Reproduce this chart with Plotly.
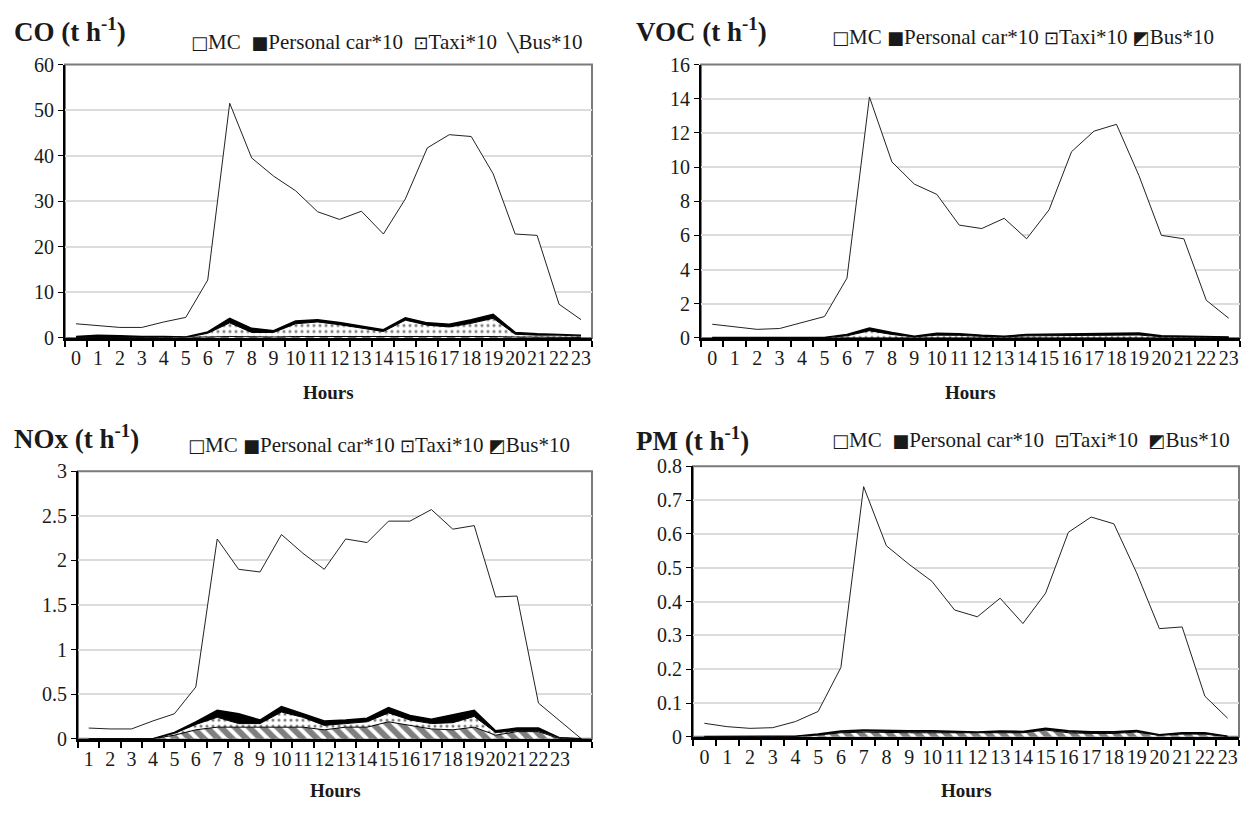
import plotly.graph_objects as go

# ---- data -------------------------------------------------------------
hour_labels = [str(h) for h in range(24)]
nox_slots = [str(h) for h in range(1, 25)]
nox_labels = [str(h) for h in range(1, 24)] + [" "]

co_mc = [3.1, 2.7, 2.3, 2.3, 3.5, 4.5, 12.7, 51.5, 39.5, 35.5, 32.3, 27.7,
         26.0, 27.8, 22.8, 30.5, 41.7, 44.6, 44.2, 36.0, 22.8, 22.5, 7.4, 4.0]
co_car = [0.3, 0.6, 0.5, 0.3, 0.3, 0.2, 1.3, 4.3, 2.1, 1.6, 3.7, 4.0,
          3.4, 2.6, 1.8, 4.4, 3.3, 3.0, 4.0, 5.2, 1.2, 0.9, 0.8, 0.6]
co_taxi = [0.1, 0.2, 0.2, 0.1, 0.1, 0.1, 1.0, 3.3, 1.2, 1.2, 3.1, 3.5,
           2.9, 2.1, 1.4, 3.9, 2.8, 2.4, 3.2, 4.3, 0.8, 0.6, 0.6, 0.4]
co_bus = [0.05, 0.05, 0.05, 0.05, 0.05, 0.1, 0.2, 0.3, 0.2, 0.2, 0.3, 0.3,
          0.3, 0.3, 0.3, 0.4, 0.3, 0.3, 0.3, 0.3, 0.2, 0.2, 0.2, 0.1]

voc_mc = [0.8, 0.65, 0.5, 0.55, 0.9, 1.25, 3.5, 14.1, 10.3, 9.0, 8.4, 6.6,
          6.4, 7.0, 5.8, 7.5, 10.9, 12.1, 12.5, 9.5, 6.0, 5.8, 2.2, 1.15]
voc_car = [0.02, 0.02, 0.02, 0.02, 0.02, 0.03, 0.2, 0.58, 0.32, 0.1, 0.27, 0.25,
           0.15, 0.1, 0.2, 0.22, 0.2, 0.23, 0.27, 0.28, 0.12, 0.1, 0.08, 0.06]
voc_taxi = [0.01, 0.01, 0.01, 0.01, 0.01, 0.02, 0.12, 0.42, 0.2, 0.06, 0.16, 0.15,
            0.09, 0.06, 0.12, 0.14, 0.12, 0.14, 0.16, 0.17, 0.07, 0.06, 0.05, 0.03]
voc_bus = [0.0, 0.0, 0.0, 0.0, 0.0, 0.01, 0.03, 0.04, 0.03, 0.03, 0.03, 0.03,
           0.03, 0.03, 0.03, 0.04, 0.03, 0.03, 0.03, 0.03, 0.01, 0.02, 0.02, 0.0]

nox_mc = [0.12, 0.11, 0.11, 0.2, 0.28, 0.58, 2.24, 1.9, 1.87, 2.29, 2.08, 1.9,
          2.24, 2.2, 2.44, 2.44, 2.57, 2.35, 2.39, 1.59, 1.6, 0.4, 0.2, 0.0]
nox_car = [0.0, 0.0, 0.0, 0.0, 0.07, 0.19, 0.32, 0.28, 0.21, 0.36, 0.28, 0.2,
           0.21, 0.23, 0.35, 0.26, 0.22, 0.27, 0.32, 0.09, 0.12, 0.12, 0.01, 0.0]
nox_taxi = [0.0, 0.0, 0.0, 0.0, 0.06, 0.16, 0.24, 0.17, 0.17, 0.3, 0.24, 0.15,
            0.17, 0.19, 0.29, 0.21, 0.17, 0.18, 0.25, 0.07, 0.09, 0.09, 0.01, 0.0]
nox_bus = [0.0, 0.0, 0.0, 0.0, 0.04, 0.1, 0.13, 0.13, 0.13, 0.13, 0.13, 0.1,
           0.13, 0.13, 0.19, 0.15, 0.11, 0.1, 0.13, 0.04, 0.08, 0.08, 0.0, 0.0]

pm_mc = [0.04, 0.03, 0.025, 0.027, 0.045, 0.075, 0.205, 0.74, 0.565, 0.51, 0.46, 0.375,
         0.355, 0.41, 0.335, 0.425, 0.605, 0.65, 0.63, 0.485, 0.32, 0.325, 0.12, 0.055]
pm_car = [0.001, 0.001, 0.001, 0.001, 0.002, 0.008, 0.017, 0.02, 0.018, 0.018, 0.018, 0.017,
          0.014, 0.017, 0.016, 0.025, 0.018, 0.015, 0.015, 0.019, 0.006, 0.012, 0.012, 0.002]
pm_taxi = [0.001, 0.001, 0.001, 0.001, 0.001, 0.006, 0.014, 0.017, 0.015, 0.015, 0.015, 0.014,
           0.011, 0.014, 0.013, 0.022, 0.015, 0.012, 0.012, 0.016, 0.005, 0.01, 0.01, 0.001]
pm_bus = [0.0, 0.0, 0.0, 0.0, 0.001, 0.005, 0.012, 0.014, 0.012, 0.012, 0.012, 0.012,
          0.01, 0.012, 0.012, 0.02, 0.012, 0.01, 0.01, 0.014, 0.004, 0.008, 0.008, 0.0]

series_names = ["MC", "Personal car*10", "Taxi*10", "Bus*10"]

# ---- styling ----------------------------------------------------------
W, H = 1248, 813
FONT = "Liberation Serif"
INK = "#1a1a1a"
GLYPH = "font-family:'DejaVu Sans';font-size:18px"


def px_x(a, b):
    return [a / W, b / W]


def px_y(top, bottom):
    return [1 - bottom / H, 1 - top / H]


def legend_text(bus_glyph, gap):
    sep = "&nbsp;" * gap
    icons = ["\u25a1", "\u25a0", "\u22a1", bus_glyph]
    parts = [f"<span style=\"{GLYPH}\">{ic}</span>{nm}"
             for ic, nm in zip(icons, series_names)]
    return sep.join(parts)


panels = [
    dict(title="CO (t h<sup>-1</sup>)", x=hour_labels, ticks=hour_labels,
         data=[co_mc, co_car, co_taxi, co_bus], yr=[0, 60], dy=10,
         dom_x=px_x(65, 592), dom_y=px_y(55, 336),
         title_xy=(12, 20), legend_xy=(189, 32),
         legend=legend_text("<b>\u2572</b>", 2), xt_y=392),
    dict(title="VOC (t h<sup>-1</sup>)", x=hour_labels, ticks=hour_labels,
         data=[voc_mc, voc_car, voc_taxi, voc_bus], yr=[0, 16], dy=2,
         dom_x=px_x(701, 1240), dom_y=px_y(55, 336),
         title_xy=(634, 20), legend_xy=(830, 27),
         legend=legend_text("\u25e9", 1), xt_y=392),
    dict(title="NOx (t h<sup>-1</sup>)", x=nox_slots, ticks=nox_labels,
         data=[nox_mc, nox_car, nox_taxi, nox_bus], yr=[0, 3], dy=0.5,
         dom_x=px_x(78, 592), dom_y=px_y(473, 748),
         title_xy=(12, 438), legend_xy=(186, 446),
         legend=legend_text("\u25e9", 1), xt_y=801),
    dict(title="PM (t h<sup>-1</sup>)", x=hour_labels, ticks=hour_labels,
         data=[pm_mc, pm_car, pm_taxi, pm_bus], yr=[0, 0.8], dy=0.1,
         dom_x=px_x(693, 1239), dom_y=px_y(468, 746),
         title_xy=(634, 440), legend_xy=(830, 441),
         legend=legend_text("\u25e9", 2), xt_y=801),
]

fig = go.Figure()
layout = dict(
    width=W, height=H,
    margin=dict(l=0, r=0, t=0, b=0),
    paper_bgcolor="white", plot_bgcolor="white",
    font=dict(family=FONT, size=20, color=INK),
    showlegend=False,
    annotations=[], shapes=[],
)

for i, p in enumerate(panels):
    n = i + 1
    xa = "x" if n == 1 else f"x{n}"
    ya = "y" if n == 1 else f"y{n}"
    mc, car, taxi, bus = p["data"]

    # MC drawn first as a white area outlined in black; the *10 series overlay it
    fig.add_trace(go.Scatter(
        x=p["x"], y=mc, name=series_names[0], mode="lines",
        line=dict(color="#222222", width=1), fill="tozeroy", fillcolor="white",
        xaxis=xa, yaxis=ya))
    fig.add_trace(go.Scatter(
        x=p["x"], y=car, name=series_names[1], mode="lines",
        line=dict(color="black", width=1.5), fill="tozeroy", fillcolor="black",
        xaxis=xa, yaxis=ya))
    fig.add_trace(go.Scatter(
        x=p["x"], y=taxi, name=series_names[2], mode="lines",
        line=dict(color="black", width=1), fill="tozeroy", fillcolor="white",
        fillpattern=dict(shape=".", fgcolor="black", bgcolor="white",
                         size=6, solidity=0.22),
        xaxis=xa, yaxis=ya))
    fig.add_trace(go.Scatter(
        x=p["x"], y=bus, name=series_names[3], mode="lines",
        line=dict(color="black", width=1), fill="tozeroy", fillcolor="white",
        fillpattern=dict(shape="\\", fgcolor="black", bgcolor="white",
                         size=10, solidity=0.6),
        xaxis=xa, yaxis=ya))

    xkey = "xaxis" if n == 1 else f"xaxis{n}"
    ykey = "yaxis" if n == 1 else f"yaxis{n}"
    layout[xkey] = dict(
        type="category", domain=p["dom_x"], anchor=ya,
        range=[-0.5, len(p["x"]) - 0.5],
        tickmode="array", tickvals=p["x"], ticktext=p["ticks"],
        tickson="boundaries", ticks="outside", ticklen=6, tickwidth=1.5,
        tickcolor="black", tickangle=0,
        showline=True, linecolor="black", linewidth=2.5,
        showgrid=False, tickfont=dict(family=FONT, size=20, color=INK),
        fixedrange=True)
    layout[ykey] = dict(
        domain=p["dom_y"], anchor=xa, range=p["yr"], dtick=p["dy"],
        ticks="outside", ticklen=5, tickcolor="black",
        showline=True, linecolor="black", linewidth=2,
        showgrid=True, gridcolor="#dcdcdc", gridwidth=1.5,
        zeroline=False, tickfont=dict(family=FONT, size=20, color=INK),
        fixedrange=True)

    # plot-area border (top and right edges)
    layout["shapes"].append(dict(
        type="rect", xref=f"{xa} domain", yref=f"{ya} domain",
        x0=0, x1=1, y0=0, y1=1, line=dict(color="#7a7a7a", width=2),
        layer="below"))

    # panel title
    tx, ty = p["title_xy"]
    layout["annotations"].append(dict(
        text=f"<b>{p['title']}</b>", xref="paper", yref="paper",
        x=tx / W, y=1 - ty / H, xanchor="left", yanchor="middle",
        showarrow=False, font=dict(family=FONT, size=27, color=INK)))

    # series key
    lx, ly = p["legend_xy"]
    layout["annotations"].append(dict(
        text=p["legend"], xref="paper", yref="paper",
        x=lx / W, y=1 - ly / H, xanchor="left", yanchor="middle",
        showarrow=False, font=dict(family=FONT, size=21, color=INK)))

    # x-axis title
    dx0, dx1 = p["dom_x"]
    layout["annotations"].append(dict(
        text="<b>Hours</b>", xref="paper", yref="paper",
        x=(dx0 + dx1) / 2, y=1 - p["xt_y"] / H, xanchor="center",
        yanchor="middle", showarrow=False,
        font=dict(family=FONT, size=19, color=INK)))

fig.update_layout(**layout)
fig.write_html("out.html")
